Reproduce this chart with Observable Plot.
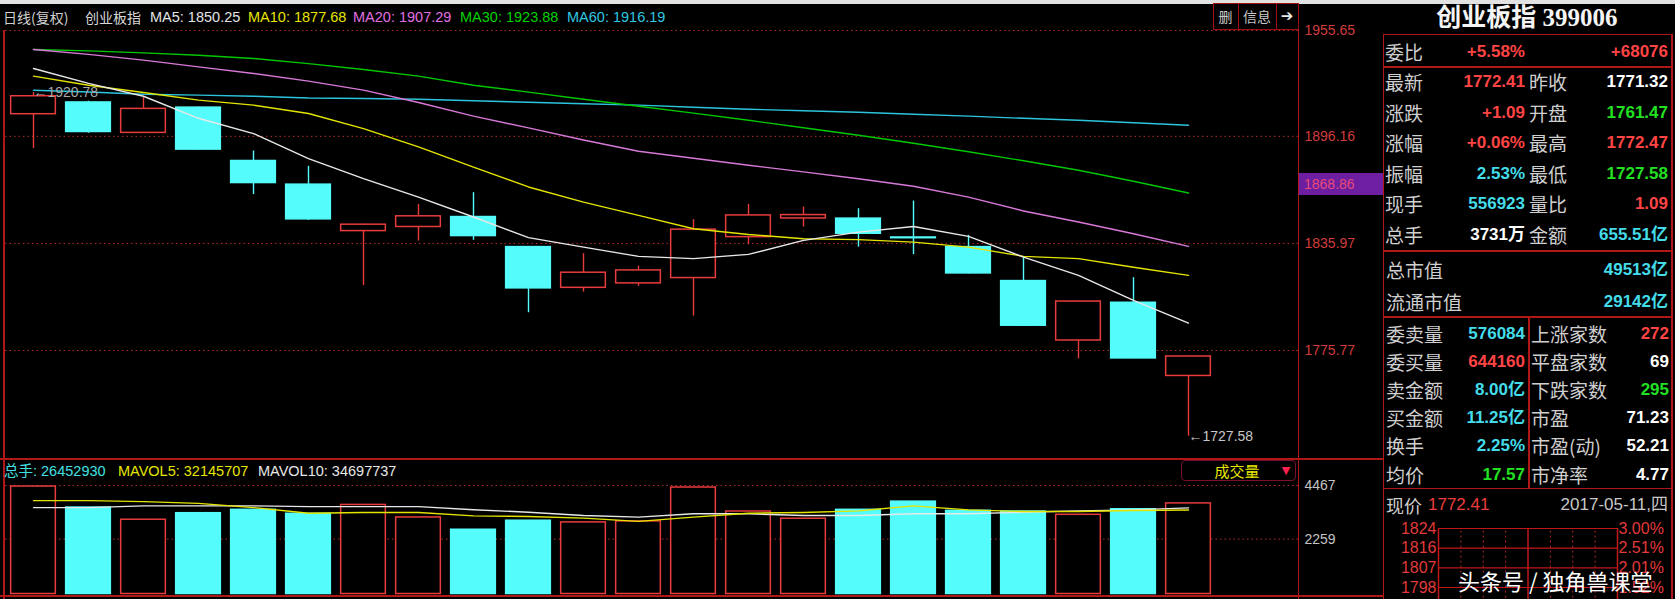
<!DOCTYPE html>
<html><head><meta charset="utf-8">
<script src="https://cdn.jsdelivr.net/npm/d3@7"></script>
<script src="https://cdn.jsdelivr.net/npm/@observablehq/plot@0.6"></script>
<style>
html,body{margin:0;padding:0;background:#000;}
#root{position:relative;width:1675px;height:599px;background:#000;overflow:hidden;font-family:"Liberation Sans","Noto Sans CJK SC",sans-serif;}
.abs{position:absolute;white-space:nowrap;}
#root svg{position:absolute;}
</style></head><body><div id="root"></div>
<script>
// ---- data ----
const dates = ["2017-04-11","2017-04-12","2017-04-13","2017-04-14","2017-04-17","2017-04-18","2017-04-19","2017-04-20","2017-04-21","2017-04-24","2017-04-25","2017-04-26","2017-04-27","2017-04-28","2017-05-02","2017-05-03","2017-05-04","2017-05-05","2017-05-08","2017-05-09","2017-05-10","2017-05-11"];
const opens  = [1908.6,1915.2,1898.1,1912.3,1882.3,1869.0,1842.9,1845.2,1850.8,1833.9,1811.0,1813.5,1816.5,1839.5,1850.0,1849.9,1839.3,1833.9,1814.8,1781.4,1802.6,1761.47];
const highs  = [1920.78,1915.9,1918.7,1912.6,1887.9,1879.3,1846.7,1857.8,1864.5,1834.1,1830.2,1823.2,1849.3,1857.9,1856.4,1855.5,1859.8,1840.5,1828.3,1803.5,1816.7,1772.47];
const lows   = [1889.3,1897.9,1898.0,1888.5,1863.4,1848.9,1812.3,1837.3,1837.7,1797.0,1808.6,1811.8,1795.1,1835.2,1845.2,1833.9,1829.6,1818.9,1789.5,1771.1,1771.3,1727.58];
const closes = [1918.7,1898.6,1911.6,1888.7,1869.9,1849.5,1846.5,1851.2,1840.1,1810.7,1819.5,1820.8,1843.7,1851.7,1851.9,1841.4,1838.9,1819.1,1789.7,1803.3,1771.32,1772.41];
const ma5  = [1934.3,1925.9,1918.7,1906.3,1897.7,1883.6,1872.4,1862.0,1850.8,1839.2,1833.9,1828.7,1827.4,1829.8,1837.7,1842.3,1845.5,1839.9,1828.3,1818.0,1803.9,1791.2];
const ma10 = [1930.0,1924.9,1920.8,1916.5,1913.7,1909.0,1900.5,1890.2,1878.9,1867.7,1859.2,1851.7,1844.2,1841.0,1838.6,1838.1,1836.7,1833.9,1828.7,1827.4,1822.6,1818.0];
const ma20 = [1945.0,1942.2,1939.0,1935.2,1931.5,1927.2,1922.1,1915.2,1907.5,1900.9,1894.1,1887.8,1883.8,1879.9,1876.2,1872.3,1868.1,1862.0,1854.2,1848.0,1841.4,1834.3];
const ma30 = [1945.0,1944.2,1943.1,1941.7,1939.9,1937.0,1933.7,1930.0,1924.9,1921.0,1917.0,1913.1,1909.2,1905.2,1901.0,1896.8,1892.3,1887.5,1882.4,1877.1,1870.9,1864.3];
const ma60 = [1922.1,1921.1,1919.8,1919.3,1918.7,1917.7,1917.4,1917.0,1916.2,1915.3,1914.5,1913.7,1912.5,1911.4,1910.5,1909.7,1908.6,1907.5,1906.3,1905.2,1903.8,1902.4];
const volumes = [4425,3558,3058,3327,3465,3302,3668,3152,2645,3017,2948,2989,4384,3396,3099,3465,3802,3424,3396,3261,3489,3731];
const mavol5  = [3843,3843,3802,3733,3558,3327,3355,3355,3215,3192,3123,2989,3164,3327,3355,3424,3627,3465,3396,3396,3436,3460];
const mavol10 = [3558,3558,3627,3627,3627,3599,3599,3599,3470,3367,3233,3164,3302,3302,3233,3233,3302,3302,3367,3424,3465,3545];
const priceTicks = [1955.65,1896.16,1835.97,1775.77];
const volTicks = [4467,2259];
const cursorPrice = 1868.86;
const headerMA = [["MA5: 1850.25","#e4e4e4",150],["MA10: 1877.68","#e6e600",248],["MA20: 1907.29","#e070e0",353],["MA30: 1923.88","#00d200",460],["MA60: 1916.19","#30c8e0",567]];
const volHeader = [["总手: 26452930","#40e0e0",4],["MAVOL5: 32145707","#e6e600",118],["MAVOL10: 34697737","#e8e8e8",258]];
const quoteLabels1 = ["最新","涨跌","涨幅","振幅","现手","总手"];
const quoteValues1 = ["1772.41","+1.09","+0.06%","2.53%","556923","3731万"];
const quoteColors1 = ["r","r","r","c","c","w"];
const quoteLabels2 = ["昨收","开盘","最高","最低","量比","金额"];
const quoteValues2 = ["1771.32","1761.47","1772.47","1727.58","1.09","655.51亿"];
const quoteColors2 = ["w","g","r","g","r","c"];
const lowLabels1 = ["委卖量","委买量","卖金额","买金额","换手","均价"];
const lowValues1 = ["576084","644160","8.00亿","11.25亿","2.25%","17.57"];
const lowColors1 = ["c","r","c","c","c","g"];
const lowLabels2 = ["上涨家数","平盘家数","下跌家数","市盈","市盈(动)","市净率"];
const lowValues2 = ["272","69","295","71.23","52.21","4.77"];
const lowColors2 = ["r","w","g","w","w","w"];
const miniPrices = ["1824","1816","1807","1798"];
const miniPcts = [3.00,2.51,2.01,1.52];

// ---- helpers ----
const root = document.getElementById("root");
const COL = {r:"#ff4444", g:"#22e022", c:"#44dcea", w:"#ffffff"};
const CJK = '"Noto Sans CJK SC",sans-serif';
const NUM = '"Liberation Sans","Noto Sans CJK SC",sans-serif';
function put(txt, x, y, o = {}) {
  const el = document.createElement("div");
  el.className = "abs";
  el.textContent = txt;
  const h = o.h || 26;
  el.style.top = (y - h / 2) + "px";
  el.style.height = h + "px";
  el.style.lineHeight = h + "px";
  el.style.fontSize = (o.size || 14) + "px";
  el.style.color = o.color || "#ccc";
  if (o.weight) el.style.fontWeight = o.weight;
  el.style.fontFamily = o.family || NUM;
  if (o.anchor === "end") { el.style.left = (x - 400) + "px"; el.style.width = "400px"; el.style.textAlign = "right"; }
  else if (o.anchor === "middle") { el.style.left = (x - 200) + "px"; el.style.width = "400px"; el.style.textAlign = "center"; }
  else el.style.left = x + "px";
  root.appendChild(el);
  return el;
}
function rect(x, y, w, h, css) {
  const el = document.createElement("div");
  el.className = "abs";
  el.style.left = x + "px"; el.style.top = y + "px"; el.style.width = w + "px"; el.style.height = h + "px";
  el.style.boxSizing = "border-box";
  Object.assign(el.style, css);
  root.appendChild(el);
  return el;
}
function place(svg, x, y) { svg.style.left = x + "px"; svg.style.top = y + "px"; root.appendChild(svg); }

// ---- chrome ----
const LINE = "#b01818";
rect(0, 0, 1675, 4, {background: "#e2e2e2"});
rect(3, 30, 1.5, 569, {background: LINE});
rect(1297.5, 30, 1.5, 569, {background: LINE});
rect(0, 457.5, 1383, 2, {background: LINE});
rect(0, 595, 1383, 2, {background: LINE});

// ---- main chart ----
const red = "#e83c3c", cyan = "#55fcfc";
const xOpts = {type: "band", domain: dates, range: [5.5, 1215.5], paddingInner: 0.16, paddingOuter: 0.08, align: 0.5, round: false, axis: null};
const candles = dates.map((date, i) => ({date, open: opens[i], high: highs[i], low: lows[i], close: closes[i], up: closes[i] > opens[i]}));
const maSeries = [[ma60, "#2cc4dc"], [ma30, "#00c800"], [ma20, "#d878d8"], [ma10, "#e4e400"], [ma5, "#e8e8e8"]];
const baseStyle = {background: "transparent", overflow: "visible", fontFamily: NUM, fontSize: "14px"};
const main = Plot.plot({
  width: 1383, height: 459, marginLeft: 5, marginRight: 85, marginTop: 30, marginBottom: 109,
  style: baseStyle,
  x: xOpts,
  y: {domain: [1775.77, 1955.65], range: [350, 30], axis: null},
  marks: [
    Plot.ruleY(priceTicks, {stroke: "#b42828", strokeDasharray: "1.5,3", strokeWidth: 1}),
    Plot.text(priceTicks, {y: d => d, text: d => d.toFixed(2), frameAnchor: "right", textAnchor: "start", dx: 6, fill: "#d23c3c", fontSize: 14}),
    Plot.ruleX(candles, {x: "date", y1: "low", y2: "high", stroke: d => d.up ? red : cyan, strokeWidth: 1.4}),
    Plot.barY(candles, {x: "date", y1: "open", y2: "close", fill: d => d.up ? "#000" : cyan, stroke: d => d.up ? red : cyan, strokeWidth: 1.5, insetLeft: 0.75, insetRight: 0.75}),
    ...maSeries.map(([vals, color]) => Plot.line(dates.map((date, i) => ({date, v: vals[i]})), {x: "date", y: "v", stroke: color, strokeWidth: 1.4})),
    Plot.text([candles[0]], {x: "date", y: "high", text: d => "←" + d.high.toFixed(2), textAnchor: "start", fill: "#a8a8a8", fontSize: 14}),
    Plot.text([candles[candles.length - 1]], {x: "date", y: "low", text: d => "←" + d.low.toFixed(2), textAnchor: "start", fill: "#c8c8c8", fontSize: 14})
  ]
});
place(main, 0, 0);

// cursor price box on the price axis
const yC = main.scale("y").apply(cursorPrice);
rect(1299, yC - 11, 84, 22, {background: "#6e1ea0"});
put(cursorPrice.toFixed(2), 1304, yC, {color: "#e84a7a", size: 14});

// header
put("日线(复权)", 3, 17, {color: "#d0d0d0", size: 14, family: CJK});
put("创业板指", 85, 17, {color: "#d8d8d8", size: 14, family: CJK});
headerMA.forEach(([t, c, x]) => put(t, x, 17, {color: c, size: 14.5}));

// buttons
rect(1213, 3, 86, 27, {border: "1.5px solid #a01010"});
rect(1237.5, 3, 1.5, 27, {background: "#a01010"});
rect(1275.5, 3, 1.5, 27, {background: "#a01010"});
put("删", 1225.5, 16, {color: "#c8c8c8", size: 14, anchor: "middle", family: CJK});
put("信息", 1257, 16, {color: "#c8c8c8", size: 14, anchor: "middle", family: CJK});
put("➔", 1287, 16, {color: "#e8e8e8", size: 15, anchor: "middle", weight: "bold", family: '"DejaVu Sans",sans-serif'});

// ---- volume chart ----
const volRows = dates.map((date, i) => ({date, v: volumes[i], up: candles[i].up}));
const vol = Plot.plot({
  width: 1383, height: 140, marginLeft: 5, marginRight: 85, marginTop: 26, marginBottom: 5,
  style: baseStyle,
  x: xOpts,
  y: {domain: [0, 4467], range: [134.5, 26], axis: null},
  marks: [
    Plot.ruleY(volTicks, {stroke: "#b42828", strokeDasharray: "1.5,3", strokeWidth: 1}),
    Plot.text(volTicks, {y: d => d, text: d => String(d), frameAnchor: "right", textAnchor: "start", dx: 6, fill: "#c4c4c4", fontSize: 14}),
    Plot.barY(volRows, {x: "date", y: "v", fill: d => d.up ? "#000" : cyan, stroke: d => d.up ? red : cyan, strokeWidth: 1.5, insetLeft: 0.75, insetRight: 0.75}),
    Plot.line(dates.map((date, i) => ({date, v: mavol10[i]})), {x: "date", y: "v", stroke: "#e8e8e8", strokeWidth: 1.4}),
    Plot.line(dates.map((date, i) => ({date, v: mavol5[i]})), {x: "date", y: "v", stroke: "#e4e400", strokeWidth: 1.4})
  ]
});
place(vol, 0, 459);
volHeader.forEach(([t, c, x]) => put(t, x, 471, {color: c, size: 14.5}));
rect(1181, 460, 115, 21, {border: "1.5px solid #7a1030", borderRadius: "4px", background: "#000"});
put("成交量", 1237, 470.5, {color: "#e8e800", size: 15, anchor: "middle", family: CJK});
put("▼", 1286, 470.5, {color: "#ff2050", size: 11, anchor: "middle", family: '"DejaVu Sans",sans-serif'});

// ---- right panel ----
rect(1382.5, 34, 1.5, 565, {background: LINE});
rect(1382.5, 33.5, 290, 1.5, {background: LINE});
rect(1671, 33.5, 1.5, 565, {background: LINE});
rect(1382.5, 66, 290, 1.5, {background: LINE});
rect(1382.5, 250, 290, 1.5, {background: LINE});
rect(1382.5, 316, 290, 1.5, {background: LINE});
rect(1528, 316, 1.5, 172, {background: LINE});
rect(1382.5, 487.5, 290, 1.5, {background: LINE});

put("创业板指 399006", 1527, 18, {color: "#f4f4f4", size: 25, anchor: "middle", weight: "bold", family: '"Liberation Serif","Noto Sans CJK SC",serif', h: 32});
put("委比", 1385, 51.5, {color: "#cfcfcf", size: 19, family: CJK});
put("+5.58%", 1525, 51.5, {color: COL.r, size: 17, weight: "bold", anchor: "end"});
put("+68076", 1668, 51.5, {color: COL.r, size: 17, weight: "bold", anchor: "end"});
quoteLabels1.forEach((l, i) => {
  const y = 82 + 30.6 * i;
  put(l, 1385, y, {color: "#cfcfcf", size: 19, family: CJK});
  put(quoteValues1[i], 1525, y, {color: COL[quoteColors1[i]], size: 17, weight: "bold", anchor: "end"});
  put(quoteLabels2[i], 1529, y, {color: "#cfcfcf", size: 19, family: CJK});
  put(quoteValues2[i], 1668, y, {color: COL[quoteColors2[i]], size: 17, weight: "bold", anchor: "end"});
});
put("总市值", 1386, 269.5, {color: "#cfcfcf", size: 19, family: CJK});
put("49513亿", 1668, 269.5, {color: COL.c, size: 17, weight: "bold", anchor: "end"});
put("流通市值", 1386, 301.5, {color: "#cfcfcf", size: 19, family: CJK});
put("29142亿", 1668, 301.5, {color: COL.c, size: 17, weight: "bold", anchor: "end"});
lowLabels1.forEach((l, i) => {
  const y = 333.5 + 28.2 * i;
  put(l, 1386, y, {color: "#cfcfcf", size: 19, family: CJK});
  put(lowValues1[i], 1525, y, {color: COL[lowColors1[i]], size: 17, weight: "bold", anchor: "end"});
  put(lowLabels2[i], 1531, y, {color: "#cfcfcf", size: 19, family: CJK});
  put(lowValues2[i], 1669, y, {color: COL[lowColors2[i]], size: 17, weight: "bold", anchor: "end"});
});
put("现价", 1386, 505, {color: "#cfcfcf", size: 18, family: CJK});
put("1772.41", 1428, 505, {color: "#ee3c3c", size: 17});
put("2017-05-11,四", 1668, 505, {color: "#c8c8c8", size: 17, anchor: "end"});

// mini intraday frame
const mini = Plot.plot({
  width: 289, height: 111, margin: 0,
  style: {background: "transparent", overflow: "visible", fontFamily: NUM, fontSize: "15px"},
  x: {domain: [0, 240], range: [55, 234], axis: null},
  y: {domain: [1.52, 3.00], range: [99, 40], axis: null},
  marks: [
    Plot.ruleX([30, 60, 90, 150, 180, 210], {x: d => d, y1: 0, y2: 3.0, stroke: "#b42828", strokeDasharray: "2,3"}),
    Plot.ruleX([0, 120, 240], {x: d => d, y1: 0, y2: 3.0, stroke: "#c01818", strokeWidth: 1.5}),
    Plot.ruleY(miniPcts, {y: d => d, x1: 0, x2: 240, stroke: "#c01818", strokeWidth: 1.2}),
    Plot.text(miniPcts, {x: 0, y: d => d, text: (d, i) => miniPrices[i], textAnchor: "end", dx: -2, fill: "#e03a3a", fontSize: 16}),
    Plot.text(miniPcts, {x: 240, y: d => d, text: d => d.toFixed(2) + "%", textAnchor: "start", dx: 1, fill: "#e03a3a", fontSize: 16})
  ]
});
place(mini, 1383, 488);

// watermark
put("头条号 / 独角兽课堂", 1458, 580, {color: "#ffffff", size: 22, family: CJK, h: 30});
</script></body></html>
